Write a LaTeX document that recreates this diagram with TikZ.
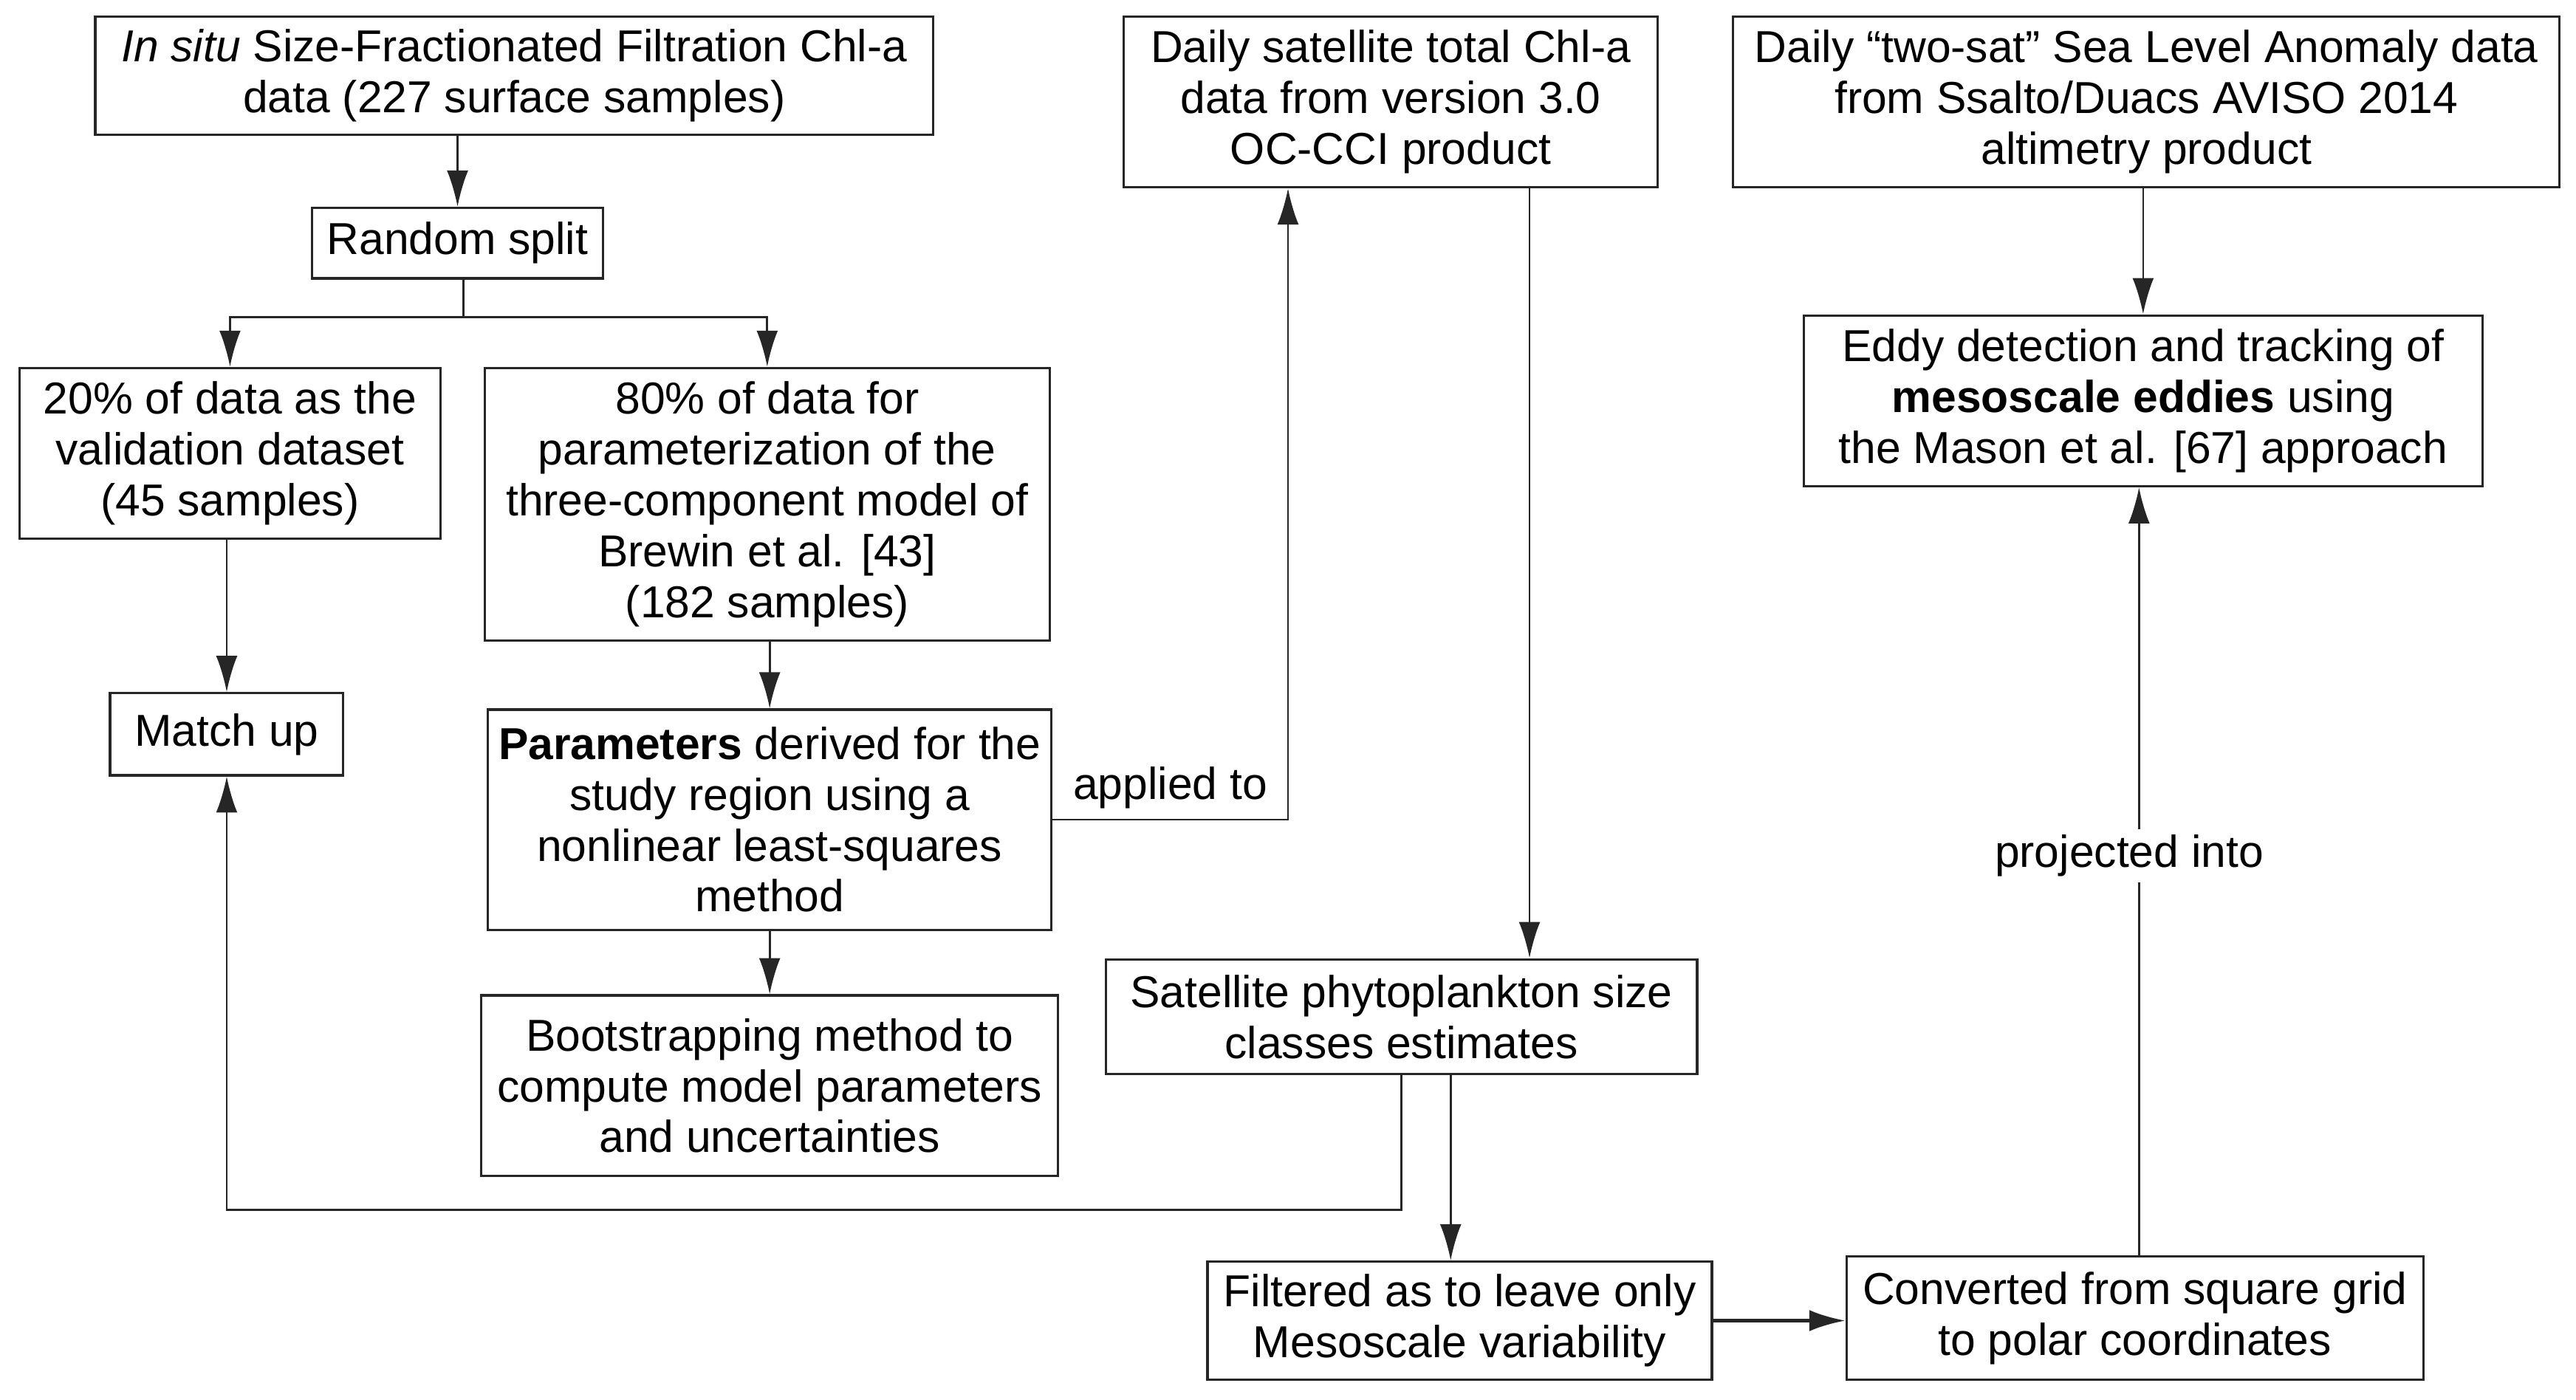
\documentclass[tikz,border=0pt]{standalone}
\usepackage{fontspec}
\setmainfont{Liberation Sans}
\usetikzlibrary{arrows.meta}

\begin{document}
\begin{tikzpicture}[
        box/.style={rectangle, draw=black!85, line width=0.8pt,
          align=center, inner sep=2pt,
          font=\fontsize{15.5}{17.6}\selectfont},
        arrow/.style={-{Latex[length=4.4mm,width=2.6mm]}, line width=0.7pt, draw=black!85},
        lab/.style={font=\fontsize{15.5}{17.6}\selectfont, inner sep=2pt}
      ]
      \useasboundingbox (0,0) rectangle (31.36,-17.04);
      % left column: in situ data
      \node[box, minimum width=10.2cm, minimum height=1.44cm] (insitu) at (6.26, -0.92)
      {\textit{In situ} Size-Fractionated Filtration Chl-a\\data (227 surface samples)};
      \node[box, minimum width=3.54cm, minimum height=0.86cm] (split) at (5.57, -2.96)
      {Random split};
      \node[box, minimum width=5.12cm, minimum height=2.08cm] (val) at (2.80, -5.52)
      {20\% of data as the\\validation dataset\\(45 samples)};
      \node[box, minimum width=6.88cm, minimum height=3.32cm] (param80) at (9.34, -6.14)
      {80\% of data for\\parameterization of the\\three-component model of\\Brewin et al. [43]\\(182 samples)};
      \node[box, minimum width=2.84cm, minimum height=1.0cm] (matchup) at (2.76, -8.94)
      {Match up};
      \node[box, minimum width=6.86cm, minimum height=2.68cm] (params) at (9.37, -9.98)
      {\textbf{Parameters} derived for the\\study region using a\\nonlinear least-squares\\method};
      \node[box, minimum width=7.02cm, minimum height=2.2cm] (boot) at (9.37, -13.22)
      {Bootstrapping method to\\compute model parameters\\and uncertainties};
      % satellite data
      \node[box, minimum width=6.5cm, minimum height=2.08cm] (sat) at (16.93, -1.24)
      {Daily satellite total Chl-a\\data from version 3.0\\OC-CCI product};
      \node[box, minimum width=7.2cm, minimum height=1.4cm] (psc) at (17.06, -12.38)
      {Satellite phytoplankton size\\classes estimates};
      \node[box, minimum width=6.14cm, minimum height=1.44cm] (filt) at (17.77, -16.08)
      {Filtered as to leave only\\Mesoscale variability};
      % altimetry
      \node[box, minimum width=10.06cm, minimum height=2.08cm] (sla) at (26.13, -1.24)
      {Daily “two-sat” Sea Level Anomaly data\\from Ssalto/Duacs AVISO 2014\\altimetry product};
      \node[box, minimum width=8.26cm, minimum height=2.08cm] (eddy) at (26.09, -4.88)
      {Eddy detection and tracking of\\\textbf{mesoscale eddies} using\\the Mason et al. [67] approach};
      \node[box, minimum width=7.02cm, minimum height=1.5cm] (conv) at (25.99, -16.05)
      {Converted from square grid\\to polar coordinates};

      \coordinate (fork) at (5.64, -3.86);
      \foreach \a/\b in {insitu/split,val/matchup,param80/params,params/boot,sla/eddy}
      {\draw[arrow] (\a.south -| \b.north) -- (\b.north);}
      \draw[arrow] (split.south -| fork) -- (fork) -| (val.north);
      \draw[arrow] (fork) -| (param80.north);
      \draw[arrow] (params.east) -| ([xshift=-1.25cm]sat.south)
        node[lab, pos=0.25, above, yshift=1.5pt] {applied to};
      \draw[arrow] ([xshift=1.69cm]sat.south) -- ([xshift=1.69cm]sat.south |- psc.north);
      \draw[arrow] (psc.south) -- ++(0,-1.64) -| (matchup.south);
      \draw[arrow] ([xshift=0.6cm]psc.south) -- ([xshift=0.6cm]psc.south |- filt.north);
      \draw[arrow, line width=1.2pt] (filt.east) -- (filt.east -| conv.west);
      \draw[arrow] ([xshift=0.05cm]conv.north) -- ([xshift=0.05cm]conv.north |- eddy.south)
        node[lab, pos=0.52, fill=white, xshift=-0.12cm] {projected into};
    \end{tikzpicture}
\end{document}
